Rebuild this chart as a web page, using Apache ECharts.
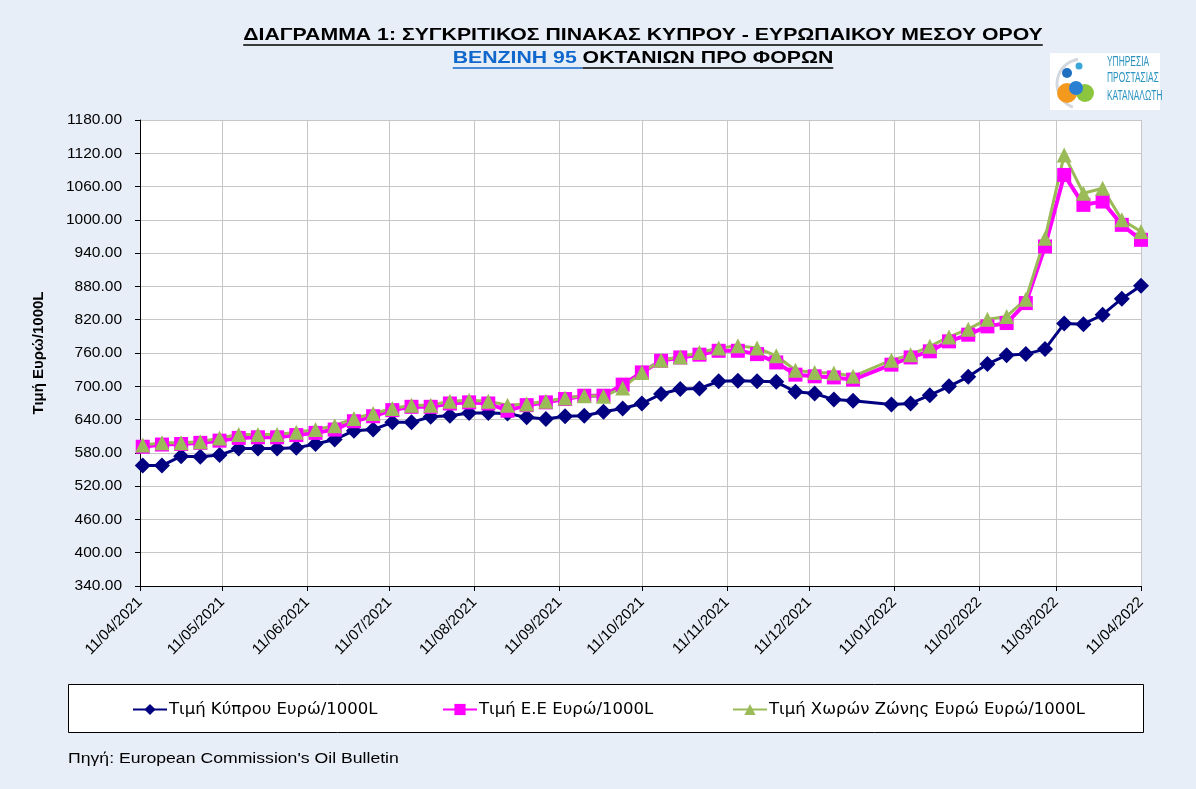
<!DOCTYPE html>
<html>
<head>
<meta charset="utf-8">
<script src="https://cdn.jsdelivr.net/npm/echarts@6/dist/echarts.min.js"></script>
<style>
html, body { margin: 0; padding: 0; background: #e8eef7; }
#chart { width: 1196px; height: 789px; }
</style>
</head>
<body>
<div id="chart"></div>
<script>
// weekly oil bulletin dates (no bulletin on 2022-01-03)
var dates = [
    '2021-04-12','2021-04-19','2021-04-26','2021-05-03','2021-05-10','2021-05-17','2021-05-24','2021-05-31',
    '2021-06-07','2021-06-14','2021-06-21','2021-06-28','2021-07-05','2021-07-12','2021-07-19','2021-07-26',
    '2021-08-02','2021-08-09','2021-08-16','2021-08-23','2021-08-30','2021-09-06','2021-09-13','2021-09-20',
    '2021-09-27','2021-10-04','2021-10-11','2021-10-18','2021-10-25','2021-11-01','2021-11-08','2021-11-15',
    '2021-11-22','2021-11-29','2021-12-06','2021-12-13','2021-12-20','2021-12-27','2022-01-10','2022-01-17',
    '2022-01-24','2022-01-31','2022-02-07','2022-02-14','2022-02-21','2022-02-28','2022-03-07','2022-03-14',
    '2022-03-21','2022-03-28','2022-04-04','2022-04-11'
];
var cyprus = [
    557, 557, 574, 573, 576, 588, 588, 588, 589, 596,
    604, 620, 622, 635, 635, 645, 647, 652, 652, 651,
    644, 641, 646, 647, 654, 660, 669, 686, 695, 696,
    709, 710, 709, 708, 690, 687, 676, 674,
    667, 669, 684, 700, 717, 740, 756, 758, 767, 813, 812, 829, 858, 881
];
var eu = [
    591, 595, 596, 598, 602, 607, 608, 608, 612, 616,
    622, 637, 646, 657, 663, 663, 669, 671, 669, 656,
    666, 671, 677, 683, 683, 703, 725, 746, 752, 757,
    764, 764, 758, 743, 721, 718, 716, 712,
    739, 752, 763, 781, 793, 808, 814, 850, 952, 1081, 1027, 1033, 991, 964
];
var euroZone = [
    594, 598, 598, 600, 607, 613, 613, 613, 617, 622,
    629, 642, 651, 660, 666, 666, 673, 675, 673, 666,
    668, 673, 679, 683, 682, 697, 725, 747, 753, 761,
    769, 773, 769, 755, 729, 725, 724, 718,
    747, 757, 772, 789, 803, 821, 826, 857, 967, 1117, 1048, 1057, 1000, 979
];
var tickDates = [
    '2021-04-11','2021-05-11','2021-06-11','2021-07-11','2021-08-11','2021-09-11','2021-10-11',
    '2021-11-11','2021-12-11','2022-01-11','2022-02-11','2022-03-11','2022-04-11'
];
var seriesNames = ['Τιμή Κύπρου Ευρώ/1000L', 'Τιμή Ε.Ε Ευρώ/1000L', 'Τιμή Χωρών Ζώνης Ευρώ Ευρώ/1000L'];

var FONT = '"Liberation Sans", Arial, sans-serif';

function toTime(s) {
    var p = s.split('-');
    return new Date(+p[0], +p[1] - 1, +p[2]).getTime();
}
function pad(n) { return n < 10 ? '0' + n : '' + n; }
function fmtDate(v) {
    var d = new Date(v);
    return pad(d.getDate()) + '/' + pad(d.getMonth() + 1) + '/' + d.getFullYear();
}
function pairs(vals) {
    return dates.map(function (d, i) { return [toTime(d), vals[i]]; });
}
var tickTimes = tickDates.map(toTime);

// measure title pieces so the underlines fit the text
var ctx = document.createElement('canvas').getContext('2d');
function textW(t, font) { ctx.font = font; return ctx.measureText(t).width; }

var titleFont = 'bold 17px ' + FONT;
var SX = 1.25; // the original's title and footer text is wide
var title1 = 'ΔΙΑΓΡΑΜΜΑ 1: ΣΥΓΚΡΙΤΙΚΟΣ ΠΙΝΑΚΑΣ ΚΥΠΡΟΥ - ΕΥΡΩΠΑΙΚΟΥ ΜΕΣΟΥ ΟΡΟΥ';
var title2a = 'ΒΕΝΖΙΝΗ 95 ';
var title2b = 'ΟΚΤΑΝΙΩΝ ΠΡΟ ΦΟΡΩΝ';
var cx = 643;
var w1 = textW(title1, titleFont) * SX;
var w2a = textW(title2a, titleFont) * SX;
var w2b = textW(title2b, titleFont) * SX;
var x2 = cx - (w2a + w2b) / 2;

function txt(x, y, text, font, fill, align, sx) {
    return {
        type: 'text', x: x, y: y, scaleX: sx || 1, silent: true,
        style: { text: text, font: font, fill: fill, align: align || 'left', verticalAlign: 'middle',
                 textAlign: align || 'left', textVerticalAlign: 'middle' }
    };
}
function hline(x1, x2, y, color, w) {
    return { type: 'line', silent: true, shape: { x1: x1, y1: y, x2: x2, y2: y },
             style: { stroke: color, lineWidth: w || 1.5 } };
}

var myChart = echarts.init(document.getElementById('chart'));

var legendBase = {
    top: 701, padding: 0, itemWidth: 34, itemHeight: 14, itemGap: 0,
    textStyle: { fontSize: 16.5, color: '#000', fontFamily: '"DejaVu Sans", sans-serif', padding: [0, 0, 0, -3] },
    selectedMode: false
};

var logoFont = '14px ' + FONT;

option = {
    backgroundColor: '#e8eef7',
    animation: false,
    grid: {
        left: 140, right: 55, top: 120, bottom: 203,
        show: true, backgroundColor: '#ffffff', borderWidth: 0
    },
    legend: [
        Object.assign({ left: 132, data: [seriesNames[0]] }, legendBase),
        Object.assign({ left: 442, data: [seriesNames[1]] }, legendBase),
        Object.assign({ left: 732, data: [seriesNames[2]] }, legendBase)
    ],
    xAxis: {
        type: 'value',
        min: tickTimes[0],
        max: tickTimes[tickTimes.length - 1],
        axisLine: { lineStyle: { color: '#000', width: 1 } },
        axisTick: { show: true, length: 5, customValues: tickTimes, lineStyle: { color: '#000' } },
        axisLabel: {
            customValues: tickTimes, rotate: 45, margin: 14,
            fontSize: 15, color: '#000', fontFamily: FONT,
            formatter: fmtDate
        },
        splitLine: { show: true, lineStyle: { color: '#c6c6c6', width: 1 } }
    },
    yAxis: {
        type: 'value',
        min: 340, max: 1180, interval: 60,
        name: 'Τιμή Ευρώ/1000L',
        nameLocation: 'middle',
        nameGap: 94,
        nameTextStyle: { fontSize: 15, fontWeight: 'bold', color: '#000', fontFamily: FONT },
        axisLine: { show: true, lineStyle: { color: '#000', width: 1 } },
        axisTick: { show: true, length: 5, lineStyle: { color: '#000' } },
        axisLabel: {
            margin: 18, fontSize: 15.5, color: '#000', fontFamily: FONT,
            formatter: function (v) { return v.toFixed(2); }
        },
        splitLine: { show: true, lineStyle: { color: '#c6c6c6', width: 1 } }
    },
    series: [
        {
            name: seriesNames[0], type: 'line', data: pairs(cyprus),
            symbol: 'diamond', symbolSize: 16,
            lineStyle: { color: '#000080', width: 3 },
            itemStyle: { color: '#000080' }
        },
        {
            name: seriesNames[1], type: 'line', data: pairs(eu),
            symbol: 'rect', symbolSize: 14,
            lineStyle: { color: '#ff00ff', width: 4 },
            itemStyle: { color: '#ff00ff' }
        },
        {
            name: seriesNames[2], type: 'line', data: pairs(euroZone),
            symbol: 'triangle', symbolSize: 15,
            lineStyle: { color: '#9bbb59', width: 3 },
            itemStyle: { color: '#9bbb59' }
        }
    ],
    graphic: [
        // legend frame
        { type: 'rect', z: -1, silent: true, shape: { x: 68.5, y: 684.5, width: 1075, height: 48 },
          style: { fill: '#ffffff', stroke: '#000', lineWidth: 1 } },
        // title
        txt(cx, 35, title1, titleFont, '#000', 'center', SX),
        hline(cx - w1 / 2, cx + w1 / 2, 45, '#000'),
        txt(x2, 58, title2a, titleFont, '#1068cc', 'left', SX),
        txt(x2 + w2a, 58, title2b, titleFont, '#000', 'left', SX),
        hline(x2, x2 + w2a, 68, '#1068cc'),
        hline(x2 + w2a, x2 + w2a + w2b, 68, '#000'),
        // source
        txt(68, 759, 'Πηγή: European Commission\'s Oil Bulletin', '14px ' + FONT, '#000', 'left', 1.26),
        // logo
        {
            type: 'group', x: 1050, y: 53, silent: true,
            children: [
                { type: 'rect', shape: { x: 0, y: 0, width: 110, height: 57 }, style: { fill: '#fff' } },
                { type: 'arc', shape: { cx: 32, cy: 31, r: 25, startAngle: Math.PI * 0.62, endAngle: Math.PI * 1.45 },
                  style: { stroke: '#d4d8de', lineWidth: 3, fill: null } },
                { type: 'circle', shape: { cx: 17, cy: 40, r: 10 }, style: { fill: '#f39a1e' } },
                { type: 'circle', shape: { cx: 35, cy: 40, r: 9 }, style: { fill: '#8cc63f' } },
                { type: 'circle', shape: { cx: 26, cy: 35, r: 7 }, style: { fill: '#2b7fd2' } },
                { type: 'circle', shape: { cx: 17, cy: 20, r: 5 }, style: { fill: '#1f6fc0' } },
                { type: 'circle', shape: { cx: 29, cy: 13, r: 3.5 }, style: { fill: '#3aa6d8' } },
                txt(57, 9, 'ΥΠΗΡΕΣΙΑ', logoFont, '#2a93bf', 'left', 0.6),
                txt(57, 25, 'ΠΡΟΣΤΑΣΙΑΣ', logoFont, '#2a93bf', 'left', 0.6),
                txt(57, 43, 'ΚΑΤΑΝΑΛΩΤΗ', logoFont, '#2a93bf', 'left', 0.6)
            ]
        }
    ]
};

myChart.setOption(option);
</script>
</body>
</html>
